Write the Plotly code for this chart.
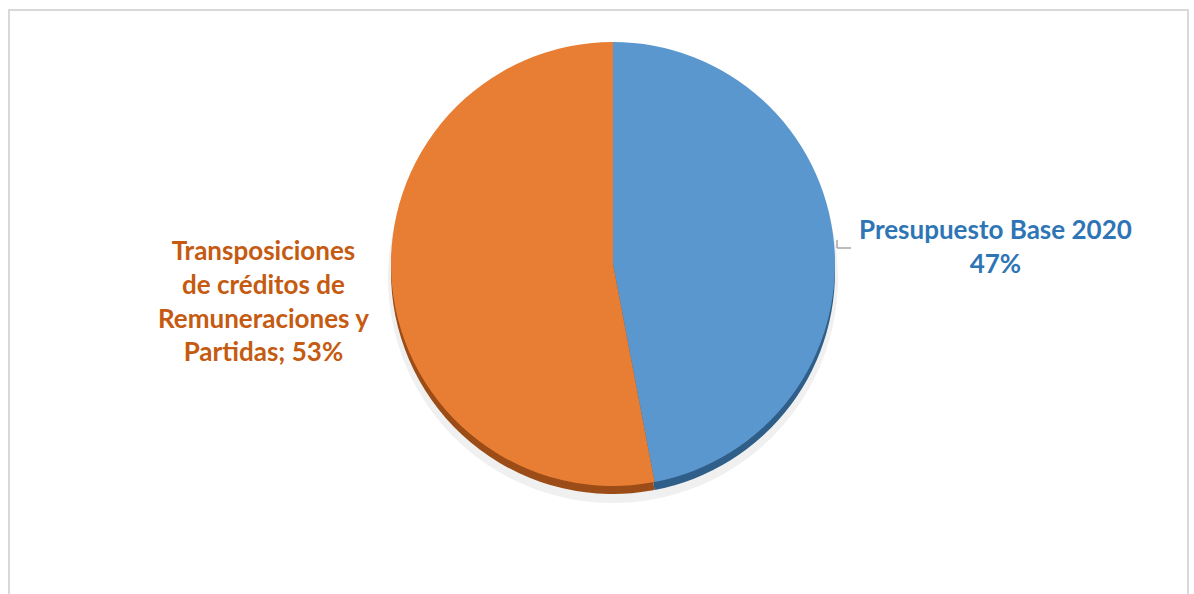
import plotly.graph_objects as go

labels = ["Presupuesto Base 2020", "Transposiciones de créditos de Remuneraciones y Partidas"]
values = [47, 53]
face_colors = ["#5A97CE", "#E87D34"]
rim_colors = ["#2F5E88", "#9C4C16"]
label_texts = ["<b>Presupuesto Base 2020<br>47%</b>",
               "<b>Transposiciones<br>de créditos de<br>Remuneraciones y<br>Partidas; 53%</b>"]
label_colors = ["#2E75B6", "#C55A11"]

W, H = 1194, 594
cx, cy, r = 613, 264, 222

def dom(cx, cy, r):
    return dict(x=[(cx - r) / W, (cx + r) / W], y=[(H - cy - r) / H, (H - cy + r) / H])

fig = go.Figure()
# soft shadow
fig.add_trace(go.Pie(values=values, labels=labels, sort=False, direction="clockwise", rotation=0,
                     marker=dict(colors=["#F0F0F0", "#F0F0F0"], line=dict(width=0)),
                     textinfo="none", hoverinfo="skip", showlegend=False, domain=dom(cx, cy + 14, r + 3)))
# 3D rim
fig.add_trace(go.Pie(values=values, labels=labels, sort=False, direction="clockwise", rotation=0,
                     marker=dict(colors=rim_colors, line=dict(width=0)),
                     textinfo="none", hoverinfo="skip", showlegend=False, domain=dom(cx, cy + 8, r)))
# face
fig.add_trace(go.Pie(values=values, labels=labels, sort=False, direction="clockwise", rotation=0,
                     marker=dict(colors=face_colors, line=dict(width=0)),
                     textinfo="none", showlegend=False, domain=dom(cx, cy, r)))

fig.add_annotation(x=996 / W, y=1 - 246 / H, xref="paper", yref="paper", text=label_texts[0],
                   showarrow=False, align="center", xanchor="center", yanchor="middle",
                   font=dict(family="Lato", size=26, color=label_colors[0]))
fig.add_annotation(x=263 / W, y=1 - 300 / H, xref="paper", yref="paper", text=label_texts[1],
                   showarrow=False, align="center", xanchor="center", yanchor="middle",
                   font=dict(family="Lato", size=26, color=label_colors[1]))

fig.update_layout(
    width=W, height=H, margin=dict(l=0, r=0, t=0, b=0),
    paper_bgcolor="white", plot_bgcolor="white",
    shapes=[
        dict(type="rect", xref="paper", yref="paper", x0=9 / W, x1=1188 / W, y0=-0.05, y1=1 - 10 / H,
             line=dict(color="#D9D9D9", width=2), layer="below"),
        dict(type="line", xref="paper", yref="paper", x0=837 / W, x1=851 / W, y0=1 - 248 / H, y1=1 - 248 / H,
             line=dict(color="#A6A6A6", width=1.5)),
        dict(type="line", xref="paper", yref="paper", x0=837 / W, x1=837 / W, y0=1 - 240 / H, y1=1 - 248 / H,
             line=dict(color="#A6A6A6", width=1.5)),
    ],
)

fig.write_html("out.html")
